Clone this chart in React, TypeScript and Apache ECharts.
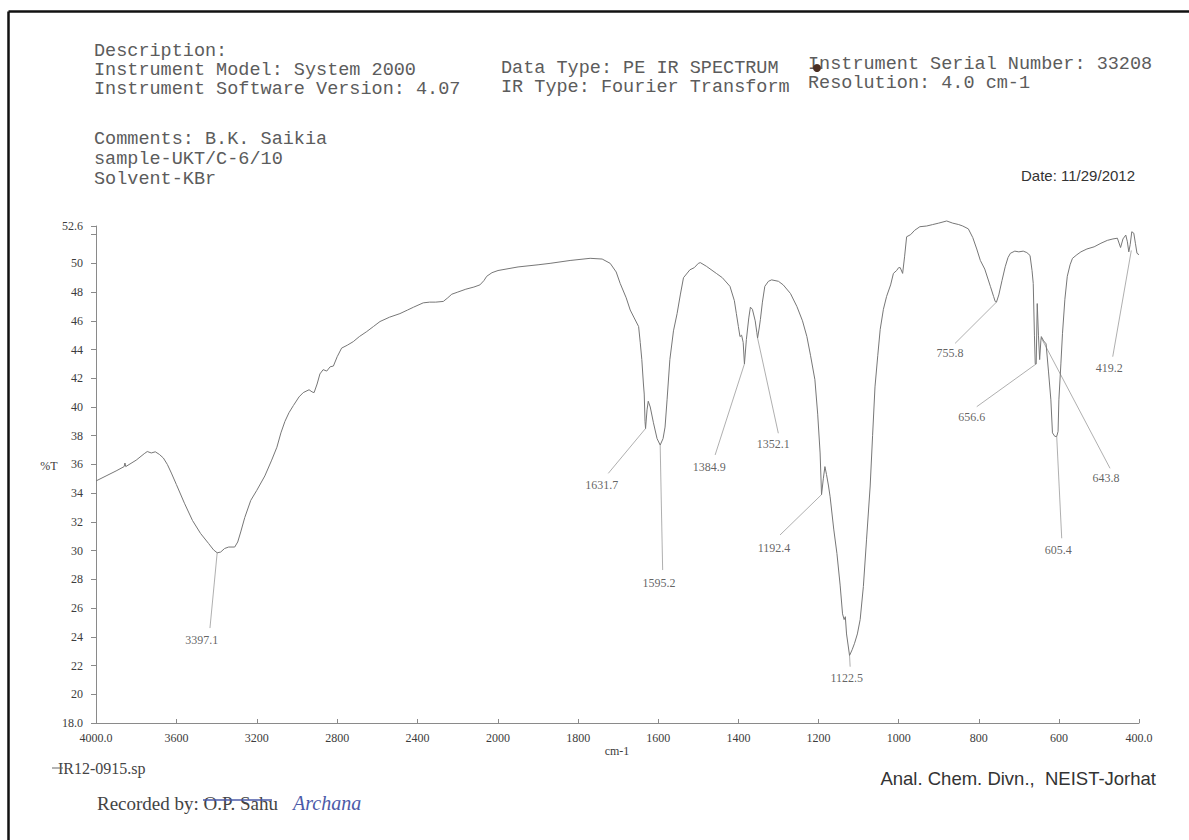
import React, { useEffect, useRef } from "react";
import * as echarts from "echarts";

// IR spectrum: [wavenumber (cm-1), %T]
const spectrumPoints: [number, number][] = [
  [4000, 34.85], [3950, 35.2], [3900, 35.55], [3860, 35.85], [3856, 36.1], [3852, 35.85], [3800, 36.3],
  [3760, 36.75], [3745, 36.9], [3725, 36.8], [3705, 36.88], [3685, 36.7], [3665, 36.45], [3645, 36.0],
  [3625, 35.4], [3600, 34.6], [3560, 33.3], [3520, 32.1], [3480, 31.2], [3440, 30.5], [3415, 30.05],
  [3397, 29.85], [3380, 29.9], [3360, 30.15], [3340, 30.25], [3310, 30.25], [3295, 30.6], [3280, 31.3],
  [3260, 32.3], [3230, 33.5], [3200, 34.2], [3160, 35.2], [3126, 36.3], [3100, 37.2], [3080, 38.2],
  [3060, 39.0], [3040, 39.6], [3018, 40.1], [2990, 40.7], [2969, 41.0], [2940, 41.2], [2925, 41.05],
  [2915, 41.0], [2900, 41.6], [2886, 42.3], [2870, 42.6], [2852, 42.5], [2835, 42.8], [2819, 42.85],
  [2800, 43.5], [2778, 44.1], [2750, 44.3], [2720, 44.55], [2690, 44.9], [2653, 45.25], [2620, 45.6],
  [2587, 45.95], [2540, 46.25], [2488, 46.5], [2450, 46.75], [2420, 46.95], [2372, 47.25], [2340, 47.3],
  [2310, 47.3], [2272, 47.35], [2250, 47.6], [2230, 47.85], [2200, 48.0], [2160, 48.2], [2120, 48.35],
  [2090, 48.5], [2070, 48.8], [2056, 49.1], [2030, 49.35], [2000, 49.5],
  [1950, 49.75], [1900, 49.9], [1870, 50.0], [1820, 50.2], [1770, 50.35], [1740, 50.3], [1720, 50.0],
  [1705, 49.4], [1695, 48.6], [1680, 47.6], [1670, 46.75], [1660, 46.2], [1649, 45.6], [1645, 44.5],
  [1641, 43.3], [1637, 41.6], [1635, 40.9], [1633, 39.0], [1631.7, 38.5], [1628, 39.8], [1625, 40.4],
  [1620, 40.0], [1612, 38.9], [1603, 37.8], [1595.2, 37.35], [1588, 37.8], [1583, 38.6], [1578, 40.5],
  [1571, 43.3], [1562, 45.3], [1553, 46.5], [1545, 47.8], [1537, 49.0], [1521, 49.55], [1510, 49.7],
  [1500, 50.0], [1495, 50.05], [1480, 49.8], [1455, 49.3], [1440, 49.0], [1421, 48.4], [1410, 47.4],
  [1405, 46.5], [1400, 45.6], [1396, 44.9], [1392, 45.0], [1388, 44.5], [1384.9, 43.0], [1380, 44.7],
  [1374, 46.2], [1370, 46.95], [1365, 46.8], [1358, 46.0], [1354, 45.2], [1352.1, 44.8], [1348, 45.5],
  [1345, 46.1], [1340, 47.3], [1334, 48.4], [1325, 48.75], [1317, 48.85], [1300, 48.75], [1288, 48.5],
  [1270, 47.9], [1254, 47.0], [1240, 46.0], [1229, 44.9], [1220, 43.6], [1209, 41.9], [1202, 39.5],
  [1196, 36.8], [1192.4, 33.9], [1188, 35.0], [1184, 35.85], [1180, 35.3], [1175, 34.5], [1171, 33.75],
  [1162, 31.5], [1154, 29.8], [1146, 27.6], [1140, 25.6], [1136, 25.2], [1133, 25.4], [1130, 24.2],
  [1122.5, 22.7], [1116, 23.1], [1110, 23.55], [1103, 24.2], [1096, 25.2], [1088, 27.5], [1080, 30.8],
  [1071, 34.5], [1065, 38.0], [1059, 41.4], [1052, 43.6], [1046, 45.4], [1038, 46.8], [1030, 47.7],
  [1020, 48.5], [1013, 49.3], [1005, 49.5], [1000, 49.7], [996, 49.7], [990, 49.3], [985, 50.5],
  [980, 51.85], [970, 52.0], [960, 52.3], [947, 52.55], [930, 52.6], [915, 52.7], [900, 52.8],
  [880, 52.95], [865, 52.8], [850, 52.7], [840, 52.6], [826, 52.4], [815, 51.8], [805, 51.0],
  [796, 50.2], [785, 49.6], [771, 48.4], [763, 47.7], [759, 47.35], [755.8, 47.3], [750, 47.8],
  [742, 48.8], [734, 49.76], [727, 50.4], [721, 50.7], [710, 50.85], [700, 50.8], [689, 50.85],
  [680, 50.75], [672, 50.55], [667, 49.5], [664, 48.6], [661, 45.0], [659, 43.0], [656.6, 43.0],
  [654, 47.2], [651, 45.0], [648, 43.3], [645, 44.6], [643.8, 44.9], [638, 44.6], [632, 44.4],
  [626, 42.5], [620, 40.5], [616, 38.2], [610, 37.95], [605.4, 37.95], [602, 38.3], [600, 40.5],
  [595, 43.0], [591, 45.1], [585, 47.5], [579, 49.1], [572, 49.9], [566, 50.35], [555, 50.6],
  [545, 50.8], [530, 51.0], [512, 51.15], [495, 51.4], [479, 51.6], [465, 51.7], [454, 51.75],
  [446, 51.1], [440, 51.7], [433, 51.97], [429, 51.5], [425.5, 50.8], [422, 51.3], [418, 52.2],
  [413, 52.1], [409, 51.4], [405, 50.7], [400, 50.6],
];

// Peak annotations
const peakWavenumbers = [3397.1, 1631.7, 1595.2, 1384.9, 1352.1, 1192.4, 1122.5, 755.8, 656.6, 643.8, 605.4, 419.2];
const peakTransmittance = [29.85, 38.5, 37.35, 43.0, 44.8, 33.9, 22.7, 47.3, 43.0, 44.8, 37.95, 50.9];
const leaderEndWavenumbers = [3433, 1724.7, 1589, 1458, 1300.3, 1296, 1121, 859, 805, 472.3, 592.9, 465.6];
const leaderEndTransmittance = [24.61, 35.38, 28.65, 36.66, 38.17, 31.09, 21.92, 44.43, 40.02, 35.73, 30.86, 43.5];
const labelWavenumbers = [3474, 1741, 1598, 1472.5, 1312.8, 1311, 1129.5, 871.7, 817.5, 482.3, 601.3, 474];
const labelTransmittance = [23.75, 34.57, 27.73, 35.84, 37.42, 30.16, 21.11, 43.78, 39.28, 35.04, 30.04, 42.69];

// Axis ticks
const yTickValues = [18, 20, 22, 24, 26, 28, 30, 32, 34, 36, 38, 40, 42, 44, 46, 48, 50, 52, 52.6];
const yLabelValues = [18, 20, 22, 24, 26, 28, 30, 32, 34, 36, 38, 40, 42, 44, 46, 48, 50, 52.6];
const xHighLabelValues = [4000, 3600, 3200, 2800, 2400, 2000];
const xLowLabelValues = [1800, 1600, 1400, 1200, 1000, 800, 600, 400];

const SERIF = "'Liberation Serif', 'Times New Roman', serif";
const MONO = "'Liberation Mono', 'Courier New', monospace";
const SANS = "'Liberation Sans', Arial, sans-serif";

export default function App() {
  const ref = useRef<HTMLDivElement>(null);

  useEffect(() => {
    if (!ref.current) return;
    const chart = echarts.init(ref.current, undefined, { renderer: "svg" });

    const highData = spectrumPoints.filter((p) => p[0] >= 2000);
    const lowData = spectrumPoints.filter((p) => p[0] <= 2000);

    const idxHigh: number[] = [];
    const idxLow: number[] = [];
    peakWavenumbers.forEach((w, i) => (w > 2000 ? idxHigh : idxLow).push(i));

    const leaders = (idx: number[]) =>
      idx.map((i) => ({
        coords: [
          [peakWavenumbers[i], peakTransmittance[i]],
          [leaderEndWavenumbers[i], leaderEndTransmittance[i]],
        ],
      }));
    const labels = (idx: number[]) =>
      idx.map((i) => ({
        name: peakWavenumbers[i].toFixed(1),
        value: [labelWavenumbers[i], labelTransmittance[i]],
      }));

    const axisText = { fontFamily: SERIF, fontSize: 12, color: "#3c3c3c" };

    const yAxisBase = {
      type: "value",
      min: 18,
      max: 52.6,
      splitLine: { show: false },
    };

    const txt = (text: string, x: number, y: number, font: string, fill = "#5c5c5c", align = "left") => ({
      type: "text",
      x,
      y,
      silent: true,
      style: {
        text,
        font,
        fill,
        textAlign: align,
        align,
        textVerticalAlign: "middle",
        verticalAlign: "middle",
      },
    });

    const peakLabel = {
      show: true,
      position: "inside",
      formatter: "{b}",
      fontFamily: SERIF,
      fontSize: 12,
      color: "#3a3a3a",
      textBorderWidth: 0,
      textBorderColor: "transparent",
    };

    const option: any = {
      animation: false,
      backgroundColor: "#ffffff",
      grid: [
        { left: 96, top: 226, width: 402, height: 497 },
        { left: 498, top: 226, width: 641, height: 497 },
      ],
      xAxis: [
        {
          type: "value",
          gridIndex: 0,
          inverse: true,
          min: 2000,
          max: 4000,
          interval: 400,
          axisLine: { show: true, onZero: false, lineStyle: { color: "#8a8a8a", width: 1 } },
          axisTick: { show: true, inside: true, length: 4, lineStyle: { color: "#8a8a8a" } },
          axisLabel: {
            ...axisText,
            margin: 9,
            customValues: xHighLabelValues,
            formatter: (v: number) => (v === 4000 ? "4000.0" : String(v)),
          },
          splitLine: { show: false },
        },
        {
          type: "value",
          gridIndex: 1,
          inverse: true,
          min: 400,
          max: 2000,
          interval: 200,
          axisLine: { show: true, onZero: false, lineStyle: { color: "#8a8a8a", width: 1 } },
          axisTick: { show: true, inside: true, length: 4, lineStyle: { color: "#8a8a8a" } },
          axisLabel: {
            ...axisText,
            margin: 9,
            customValues: xLowLabelValues,
            formatter: (v: number) => (v === 400 ? "400.0" : String(v)),
          },
          splitLine: { show: false },
        },
      ],
      yAxis: [
        {
          ...yAxisBase,
          gridIndex: 0,
          axisLine: { show: true, onZero: false, lineStyle: { color: "#8a8a8a", width: 1 } },
          axisTick: { show: true, inside: false, length: 5, customValues: yTickValues, lineStyle: { color: "#8a8a8a" } },
          axisLabel: {
            ...axisText,
            margin: 13,
            customValues: yLabelValues,
            formatter: (v: number) => (v === 18 ? "18.0" : v === 52.6 ? "52.6" : String(v)),
          },
        },
        { ...yAxisBase, gridIndex: 1, show: false },
      ],
      series: [
        {
          type: "line",
          xAxisIndex: 0,
          yAxisIndex: 0,
          data: highData,
          symbol: "none",
          showSymbol: false,
          clip: false,
          lineStyle: { color: "#777777", width: 1 },
          silent: true,
        },
        {
          type: "line",
          xAxisIndex: 1,
          yAxisIndex: 1,
          data: lowData,
          symbol: "none",
          showSymbol: false,
          clip: false,
          lineStyle: { color: "#777777", width: 1 },
          silent: true,
        },
        {
          type: "lines",
          coordinateSystem: "cartesian2d",
          xAxisIndex: 0,
          yAxisIndex: 0,
          data: leaders(idxHigh),
          lineStyle: { color: "#9a9a9a", width: 0.8, opacity: 1 },
          silent: true,
        },
        {
          type: "lines",
          coordinateSystem: "cartesian2d",
          xAxisIndex: 1,
          yAxisIndex: 1,
          data: leaders(idxLow),
          lineStyle: { color: "#9a9a9a", width: 0.8, opacity: 1 },
          silent: true,
        },
        {
          type: "scatter",
          xAxisIndex: 0,
          yAxisIndex: 0,
          symbolSize: 0,
          itemStyle: { color: "#3a3a3a" },
          data: labels(idxHigh),
          label: peakLabel,
          silent: true,
        },
        {
          type: "scatter",
          xAxisIndex: 1,
          yAxisIndex: 1,
          symbolSize: 0,
          itemStyle: { color: "#3a3a3a" },
          data: labels(idxLow),
          label: peakLabel,
          silent: true,
        },
      ],
      graphic: [
        { type: "line", silent: true, shape: { x1: 8.5, y1: 11.5, x2: 1189, y2: 11.5 }, style: { stroke: "#111", lineWidth: 2.5 } },
        { type: "line", silent: true, shape: { x1: 8.5, y1: 11.5, x2: 8.5, y2: 840 }, style: { stroke: "#111", lineWidth: 2.5 } },
        txt("Description:", 94, 51, `18.5px ${MONO}`),
        txt("Instrument Model: System 2000", 94, 70, `18.5px ${MONO}`),
        txt("Instrument Software Version: 4.07", 94, 89, `18.5px ${MONO}`),
        txt("Data Type: PE IR SPECTRUM", 501, 68, `18.5px ${MONO}`),
        txt("IR Type: Fourier Transform", 501, 87, `18.5px ${MONO}`),
        txt("Instrument Serial Number: 33208", 808, 64, `18.5px ${MONO}`),
        txt("Resolution: 4.0 cm-1", 808, 83, `18.5px ${MONO}`),
        { type: "circle", silent: true, shape: { cx: 817, cy: 68, r: 4 }, style: { fill: "#4a2e22" } },
        txt("Comments: B.K. Saikia", 94, 139, `18.5px ${MONO}`),
        txt("sample-UKT/C-6/10", 94, 159, `18.5px ${MONO}`),
        txt("Solvent-KBr", 94, 179, `18.5px ${MONO}`),
        txt("Date: 11/29/2012", 1135, 175, `15px ${SANS}`, "#333", "right"),
        txt("%T", 49, 466, `12px ${SERIF}`, "#3c3c3c", "center"),
        txt("cm-1", 617, 751, `12px ${SERIF}`, "#3c3c3c", "center"),
        txt("IR12-0915.sp", 58, 768, `16px ${SERIF}`, "#444"),
        { type: "line", silent: true, shape: { x1: 52, y1: 768, x2: 63, y2: 768 }, style: { stroke: "#666", lineWidth: 1 } },
        txt("Anal. Chem. Divn.,  NEIST-Jorhat", 1156, 778, `18.5px ${SANS}`, "#333", "right"),
        txt("Recorded by: O.P. Sahu", 97, 803, `19px ${SERIF}`, "#444"),
        { type: "line", silent: true, shape: { x1: 203, y1: 800, x2: 272, y2: 800 }, style: { stroke: "#4b5aa8", lineWidth: 1.5 } },
        txt("Archana", 293, 803, `italic 20px ${SERIF}`, "#4b5aa8"),
      ],
    };

    chart.setOption(option);
    return () => chart.dispose();
  }, []);

  return (
    <div
      ref={ref}
      style={{ position: "absolute", left: 0, top: 0, width: 1189, height: 840, background: "#fff" }}
    />
  );
}
